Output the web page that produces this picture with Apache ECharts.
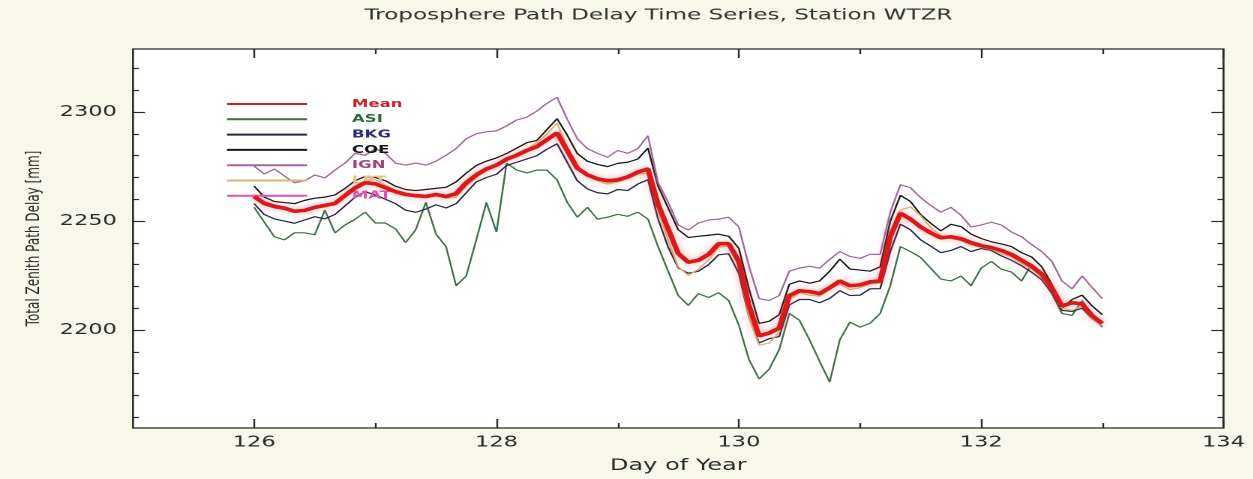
<!DOCTYPE html>
<html><head><meta charset="utf-8">
<script src="https://cdn.jsdelivr.net/npm/echarts@6.0.0/dist/echarts.min.js"></script>
<style>
html,body{margin:0;padding:0;background:#f7f7ea;overflow:hidden}
#chart{width:835.333px;height:479px;transform:scaleX(1.5);transform-origin:0 0}
</style></head><body><div id="chart"></div>
<script>
// Tropospheric zenith path delay at WTZR, 2-hourly estimates, day 126.0 .. 133.0 [mm]
const START_DAY = 126;
const STEP_HOURS = 2;

const meanZPD = [2261.3,2258.1,2256.8,2255.9,2254.5,2254.9,2256.3,2257.2,2258.1,2261.7,
2265.3,2267.6,2267.1,2265.3,2263.5,2262.2,2261.7,2261.3,2262.2,2261.3,
2262.6,2267.6,2271.2,2273.9,2275.7,2278.4,2280.2,2282.4,2284.2,2287.4,
2290.5,2282.4,2274.3,2271.2,2269.4,2268.5,2268.9,2270.3,2272.5,2273.9,
2257.7,2246.4,2235.1,2231.1,2232.0,2234.7,2239.6,2239.6,2231.5,2211.3,
2197.3,2198.6,2200.9,2215.8,2218.0,2217.6,2216.7,2219.4,2222.5,2220.3,
2220.7,2222.1,2222.5,2242.8,2253.6,2250.9,2247.3,2244.6,2242.3,2242.8,
2241.9,2240.1,2238.7,2237.8,2236.5,2234.7,2232.0,2229.3,2225.7,2219.4,
2211.0,2212.5,2212.0,2206.5,2203.0];

const asiZPD = [2256.3,2249.5,2242.8,2241.4,2244.6,2244.6,2243.7,2255.0,2244.6,2248.2,
2250.9,2254.1,2249.1,2249.1,2246.4,2240.1,2246.0,2258.6,2244.1,2238.3,
2220.3,2224.8,2241.4,2258.6,2245.0,2276.6,2273.4,2272.1,2273.4,2273.4,
2268.9,2258.6,2251.8,2256.3,2250.9,2251.8,2253.1,2252.2,2254.1,2250.9,
2238.3,2227.0,2215.8,2211.3,2216.7,2214.9,2217.1,2213.5,2202.2,2186.5,
2177.5,2182.0,2191.0,2207.6,2204.5,2195.5,2185.6,2176.1,2195.5,2203.6,
2201.3,2203.1,2207.6,2220.3,2238.3,2236.0,2233.3,2228.4,2223.4,2222.5,
2224.8,2220.3,2228.4,2231.5,2227.9,2226.6,2222.5,2230.2,2223.9,2216.7,
2207.6,2206.7,2213.5,2206.7,2201.3];

const bkgZPD = [2258,2253,2251,2250,2249,2250.5,2252,2251,2253,2257,
2261,2263.5,2262,2260,2258,2255,2254,2255.5,2257.5,2256,
2258,2263,2268,2270,2271.5,2275.5,2277,2278.5,2280,2283,
2285.5,2277,2268.5,2264.8,2263,2262.5,2264.5,2264,2267,2269,
2251,2238,2228.5,2226,2227,2230,2234.5,2235,2226,2206,
2194,2196,2197,2211.5,2214,2214,2212.5,2214.5,2218,2215.8,
2216,2218.9,2219,2236,2248.6,2246,2241.4,2238.5,2235.5,2236.5,
2238.3,2236,2237.4,2236.5,2234,2232,2229.5,2226.5,2223,2217,
2209,2208.5,2210,2205,2202];

const coeZPD = [2266,2261,2259,2258.5,2258,2259.5,2260.5,2261,2262,2265,
2268.5,2270.5,2270,2268.5,2266,2264.5,2264,2264.5,2265,2265.5,
2268,2272,2275.5,2277.5,2279,2281,2283.5,2286,2287,2292,
2297,2289.5,2281,2277.5,2276,2275,2276.5,2277,2278.5,2283.5,
2266,2256,2246,2242.5,2243,2243.5,2244,2243,2237.5,2219,
2203,2204,2207,2221,2222.5,2221.5,2222.5,2227,2232.5,2228,
2227.5,2227,2229,2250,2261.8,2259,2253,2249,2245.5,2248.5,
2247.5,2244,2242,2240.5,2239.5,2238.3,2235.5,2233.5,2229,2221,
2210,2214,2216,2211,2207];

const ignZPD = [2275.2,2271.6,2273.9,2270.7,2267.6,2268.5,2271.2,2269.8,2273.4,2276.6,
2281.1,2280.2,2283.3,2281.1,2276.6,2275.7,2276.6,2275.7,2277.5,2280.2,
2283.3,2287.8,2290.1,2291.0,2291.4,2293.7,2296.4,2297.7,2300.5,2304.1,
2306.8,2296.8,2287.8,2283.3,2281.1,2279.3,2282.4,2281.1,2283.3,2289.2,
2267.6,2258.6,2248.2,2245.9,2249.1,2250.5,2250.9,2251.8,2247.3,2229.3,
2214.4,2213.5,2215.8,2227.0,2228.4,2229.3,2228.4,2232.4,2236.0,2233.8,
2232.9,2234.7,2234.7,2254.1,2266.7,2265.3,2260.8,2257.2,2254.1,2256.3,
2252.7,2247.3,2248.2,2249.5,2248.2,2245.0,2242.8,2239.2,2236.0,2231.5,
2222.5,2218.9,2224.8,2219.4,2214.4];

const lptZPD = [2262,2259,2257.5,2256,2255,2255,2256,2256.5,2258,2262,
2266,2268.5,2269,2266.5,2264,2263,2262,2261.5,2262.5,2260.5,
2261,2266,2270,2273.5,2276,2278,2281,2283,2286,2290,
2295,2284,2275.5,2271,2268.5,2267,2268,2269.5,2271.5,2272,
2255,2241,2229,2225,2228,2232,2238,2238.5,2229,2206,
2193,2194,2199,2214,2217,2216,2215.5,2219,2221,2218.5,
2219.5,2221,2221.5,2245,2255,2256.5,2252.5,2247,2243.5,2242,
2241,2239,2238,2237,2235,2233.5,2230.5,2228,2224,2218,
2210,2209,2211,2205,2202];

const matZPD = [2260.5,2257.5,2256,2255.5,2254,2254.5,2256,2257.5,2258.5,2261,
2264.5,2267,2267.5,2265.5,2263,2262.5,2261,2261.5,2262.5,2261.5,
2262,2267,2271.5,2274.5,2276,2278,2280.5,2282,2284.5,2287,
2290,2283,2274.5,2271.5,2269,2268,2269.5,2270,2272.5,2274.5,
2258,2246,2235.5,2231.5,2232.5,2235,2239,2240,2232,2212,
2198,2199,2201.5,2215,2218.5,2218,2216,2219,2222,2221,
2220.5,2222.5,2223,2242,2253,2251.5,2247,2245,2242.5,2243,
2242.5,2240.5,2239,2238,2236.5,2235,2232.5,2229.5,2226,2219,
2211.5,2212,2212.5,2207,2203.5];

const xMajorTicks = [126, 128, 130, 132, 134];
const xMinorTicks = [127, 129, 131, 133];
const yMajorTicks = [2200, 2250, 2300];
const yMinorTicks = [2160, 2170, 2180, 2190, 2210, 2220, 2230, 2240, 2260, 2270, 2280, 2290, 2310, 2320];

// the plot is drawn narrow and widened horizontally by the CSS transform
const SX = 1.5;
const FONT = 'DejaVu Sans';
const INK = '#2a2a2a';

function toPoints(values) {
  return values.map((v, i) => [START_DAY + i * STEP_HOURS / 24, v]);
}

const curves = [
  { name: 'ASI',  data: asiZPD, color: '#3f6f47', label: '#2f6b3a', width: 1.2 },
  { name: 'BKG',  data: bkgZPD, color: '#26264e', label: '#2c2c78', width: 1.2 },
  { name: 'COE',  data: coeZPD, color: '#161616', label: '#111111', width: 1.2 },
  { name: 'IGN',  data: ignZPD, color: '#9d6a9b', label: '#a4407a', width: 1.2 },
  { name: 'LPT',  data: lptZPD, color: '#dcb476', label: '#e3c68c', width: 1.2 },
  { name: 'MAT',  data: matZPD, color: '#de52c0', label: '#e24fb6', width: 1.2 },
  { name: 'Mean', data: meanZPD, color: '#d91a1a', label: '#c8202a', width: 3.6 }
];
const legendOrder = ['Mean', 'ASI', 'BKG', 'COE', 'IGN', 'LPT', 'MAT'];

function xAxisDef(pos, ticks, len, labels) {
  return {
    type: 'value', min: 125, max: 134, position: pos,
    axisLine: { show: false },
    splitLine: { show: false },
    axisTick: { show: true, inside: true, length: len, customValues: ticks, lineStyle: { color: INK, width: 1.2 } },
    axisLabel: labels ? { show: true, customValues: ticks, margin: 7, fontFamily: FONT, fontSize: 15, color: INK, formatter: v => String(v) } : { show: false }
  };
}
function yAxisDef(pos, ticks, len, labels) {
  return {
    type: 'value', min: 2155, max: 2329, position: pos,
    axisLine: { show: false },
    splitLine: { show: false },
    axisTick: { show: true, inside: true, length: len, customValues: ticks, lineStyle: { color: INK, width: 1.2 } },
    axisLabel: labels ? { show: true, customValues: ticks, margin: 10.7, fontFamily: FONT, fontSize: 15, color: INK, formatter: v => String(v) } : { show: false }
  };
}

const xAxes = [
  xAxisDef('bottom', xMajorTicks, 9, true),
  xAxisDef('bottom', xMinorTicks, 5, false),
  xAxisDef('top', xMajorTicks, 9, false),
  xAxisDef('top', xMinorTicks, 5, false)
];
Object.assign(xAxes[0], {
  name: 'Day of Year', nameLocation: 'middle', nameGap: 30,
  nameTextStyle: { fontFamily: FONT, fontSize: 16, color: INK }
});
const yAxes = [
  yAxisDef('left', yMajorTicks, 8, true),
  yAxisDef('left', yMinorTicks, 4, false),
  yAxisDef('right', yMajorTicks, 8, false),
  yAxisDef('right', yMinorTicks, 4, false)
];
Object.assign(yAxes[0], {
  name: 'Total Zenith Path Delay [mm]', nameLocation: 'middle', nameGap: 57, nameRotate: 90,
  nameTextStyle: { fontFamily: FONT, fontSize: 12, color: INK }
});

const chart = echarts.init(document.getElementById('chart'), null, { renderer: 'canvas', devicePixelRatio: 2 });
chart.setOption({
  animation: false,
  backgroundColor: '#f7f7ea',
  title: {
    text: 'Troposphere Path Delay Time Series, Station WTZR',
    left: 238, top: 3,
    textStyle: { fontFamily: FONT, fontSize: 15.4, fontWeight: 'normal', color: '#333' }
  },
  grid: {
    left: 133 / SX, right: 1253 / SX - 1224 / SX, top: 49, bottom: 44,
    show: true, backgroundColor: '#ffffff', borderColor: '#2a2a2a', borderWidth: 1.3
  },
  legend: {
    orient: 'vertical', left: 218 / SX, top: 93,
    itemWidth: 80 / SX, itemHeight: 12, itemGap: 3.3,
    itemStyle: { opacity: 0 },
    textStyle: { fontFamily: FONT, fontSize: 11, fontWeight: 'bold', lineHeight: 12, padding: [0, 0, 0, 25] },
    data: legendOrder.map(n => {
      const c = curves.find(k => k.name === n);
      return { name: n, textStyle: { color: c.label } };
    })
  },
  xAxis: xAxes,
  yAxis: yAxes,
  series: curves.map(c => ({
    type: 'line', name: c.name, xAxisIndex: 0, yAxisIndex: 0,
    data: toPoints(c.data), symbol: 'none', silent: true,
    lineStyle: c.name === 'Mean'
      ? { color: c.color, width: c.width, shadowBlur: 6, shadowColor: 'rgba(240,90,90,0.55)' }
      : { color: c.color, width: c.width },
    itemStyle: { color: c.color },
    z: c.name === 'Mean' ? 5 : 2
  }))
});
</script></body></html>
